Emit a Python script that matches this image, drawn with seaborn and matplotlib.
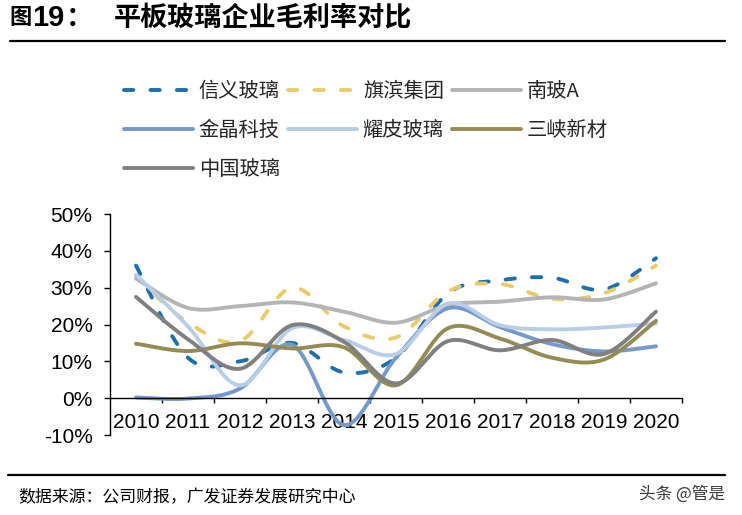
import matplotlib
matplotlib.use("Agg")
import matplotlib.pyplot as plt
import numpy as np
import pandas as pd
import seaborn as sns
from matplotlib.lines import Line2D
from matplotlib.ticker import PercentFormatter

# Gross margin (%)
years = ['2010', '2011', '2012', '2013', '2014', '2015', '2016', '2017', '2018', '2019', '2020']
xinyi = [36, 11, 10, 15, 7, 11, 28.5, 32, 32.7, 29.5, 38]
qibin = [33, 20.5, 15.5, 30, 19.5, 16.5, 29, 31, 27, 28.5, 36]
nanbo = [32.5, 24.5, 25, 26, 23.5, 20.5, 25.3, 26.2, 27.4, 26.8, 31.2]
jinjing = [0.2, -0.1, 2.6, 14.5, -7.3, 11, 24.4, 19.3, 14.7, 12.7, 14.1]
yaopi = [33.5, 19.5, 3.5, 19, 15.8, 12, 25.7, 19.8, 18.7, 19.2, 20.3]
sanxia = [14.8, 12.8, 14.9, 13.5, 13.8, 3.5, 19, 16.2, 11, 10.5, 21]
zhongguo = [27.5, 16, 8, 19.8, 15.3, 4, 15.5, 13, 15.8, 12, 23.5]

names = ['信义玻璃', '旗滨集团', '南玻A', '金晶科技', '耀皮玻璃', '三峡新材', '中国玻璃']
series = [xinyi, qibin, nanbo, jinjing, yaopi, sanxia, zhongguo]
colors = ['#1F6EAD', '#EACB6C', '#B4B4B4', '#7799CA', '#BACDE6', '#958B55', '#808080']
dashed = ['信义玻璃', '旗滨集团']


# Excel-style smoothed line (bezier through the points), only used for drawing
def smooth(xs, ys, n=30):
    p = np.column_stack([xs, ys]).astype(float)
    p = np.vstack([p[0], p, p[-1]])
    out = []
    t = np.linspace(0, 1, n)[:, None]
    for i in range(1, len(p) - 2):
        p0, p1, p2, p3 = p[i - 1], p[i], p[i + 1], p[i + 2]
        c1 = p1 + (p2 - p0) / 6
        c2 = p2 - (p3 - p1) / 6
        seg = (1 - t) ** 3 * p1 + 3 * (1 - t) ** 2 * t * c1 + 3 * (1 - t) * t ** 2 * c2 + t ** 3 * p2
        out.append(seg if i == 1 else seg[1:])
    return np.vstack(out)


sns.set_theme(style='white')
plt.rcParams['font.family'] = ['Liberation Sans', 'Noto Sans CJK SC', 'DejaVu Sans']
plt.rcParams['axes.unicode_minus'] = False
plt.rcParams['lines.dash_capstyle'] = 'round'
plt.rcParams['lines.solid_capstyle'] = 'round'

rows = []
for name, vals in zip(names, series):
    pts = smooth(np.arange(len(years)), np.array(vals) / 100)
    for k, (xv, yv) in enumerate(pts):
        rows.append({'公司': name, 'order': k, 'x': xv, 'y': yv})
df = pd.DataFrame(rows)

fig = plt.figure(figsize=(7.42, 5.15), dpi=100)
ax = fig.add_axes([0.1482, 0.1553, 0.7709, 0.4291])

dash_map = {n: ((2.4, 4.4) if n in dashed else '') for n in names}
sns.lineplot(data=df, x='x', y='y', hue='公司', style='公司', palette=dict(zip(names, colors)),
             dashes=dash_map, linewidth=2.8, sort=False, estimator=None, legend=False, ax=ax)

ax.set_xlim(-0.5, len(years) - 0.5)
ax.set_ylim(-0.1, 0.5)
ax.set_yticks(np.arange(-0.1, 0.51, 0.1))
ax.yaxis.set_major_formatter(PercentFormatter(1.0, decimals=0))
ax.set_xticks(range(len(years)))
ax.set_xticklabels(years)
ax.set_xticks(np.arange(0.5, len(years), 1), minor=True)
ax.set_xlabel('')
ax.set_ylabel('')

for s in ['top', 'right']:
    ax.spines[s].set_visible(False)
ax.spines['bottom'].set_position(('data', 0))
ax.spines['left'].set_color('black')
ax.spines['bottom'].set_color('black')
ax.spines['left'].set_linewidth(1)
ax.spines['bottom'].set_linewidth(1)
ax.tick_params(axis='y', which='major', direction='out', length=4.5, width=1, color='black',
               pad=8, labelsize=15, left=True)
ax.tick_params(axis='x', which='major', length=0, pad=11, labelsize=15, bottom=True)
ax.tick_params(axis='x', which='minor', direction='out', length=3.8, width=1, color='black', bottom=True)
for lab in ax.get_xticklabels() + ax.get_yticklabels():
    lab.set_color('black')

# legend in the row order of the reference (matplotlib fills columns first)
order = [0, 3, 6, 1, 4, 2, 5]
handles = []
for i in order:
    h = Line2D([], [], color=colors[i], linewidth=2.8,
               linestyle=(0, (2.4, 4.4)) if names[i] in dashed else '-')
    handles.append(h)
fig.legend(handles, [names[i] for i in order], loc='upper left', bbox_to_anchor=(0.153, 0.863),
           ncol=3, frameon=False, borderpad=0, handlelength=3.4, handletextpad=0.3,
           columnspacing=0.4, labelspacing=0.9,
           prop={'family': ['Noto Sans CJK SC', 'DejaVu Sans'], 'size': 14.6})

fig.text(9 / 742, 1 - 19 / 515, '图', fontsize=16, fontweight='bold',
         va='center', ha='left', color='black')
fig.text(32 / 742, 1 - 18 / 515, '19', fontsize=21, fontweight='bold',
         va='center', ha='left', color='black')
fig.text(66 / 742, 1 - 19 / 515, '：', fontsize=19.5, fontweight='bold',
         va='center', ha='left', color='black')
fig.text(114 / 742, 1 - 19 / 515, '平板玻璃企业毛利率对比', fontsize=19.5, fontweight='bold',
         va='center', ha='left', color='black')
fig.add_artist(Line2D([10 / 742, 725 / 742], [1 - 41 / 515] * 2, color='black', linewidth=1.6))
fig.add_artist(Line2D([8 / 742, 725 / 742], [1 - 475 / 515] * 2, color='black', linewidth=1.6))
fig.text(18 / 742, 1 - 497 / 515, '数据来源：公司财报，广发证券发展研究中心', fontsize=12.2,
         va='center', ha='left', color='black', family=['Noto Sans CJK SC', 'DejaVu Sans'])
fig.text(725 / 742, 1 - 494 / 515, '头条 @管是', fontsize=12, va='center', ha='right',
         color='#3A3A3A', family=['Noto Sans CJK SC', 'DejaVu Sans'])

fig.savefig('out.png', dpi=100)
